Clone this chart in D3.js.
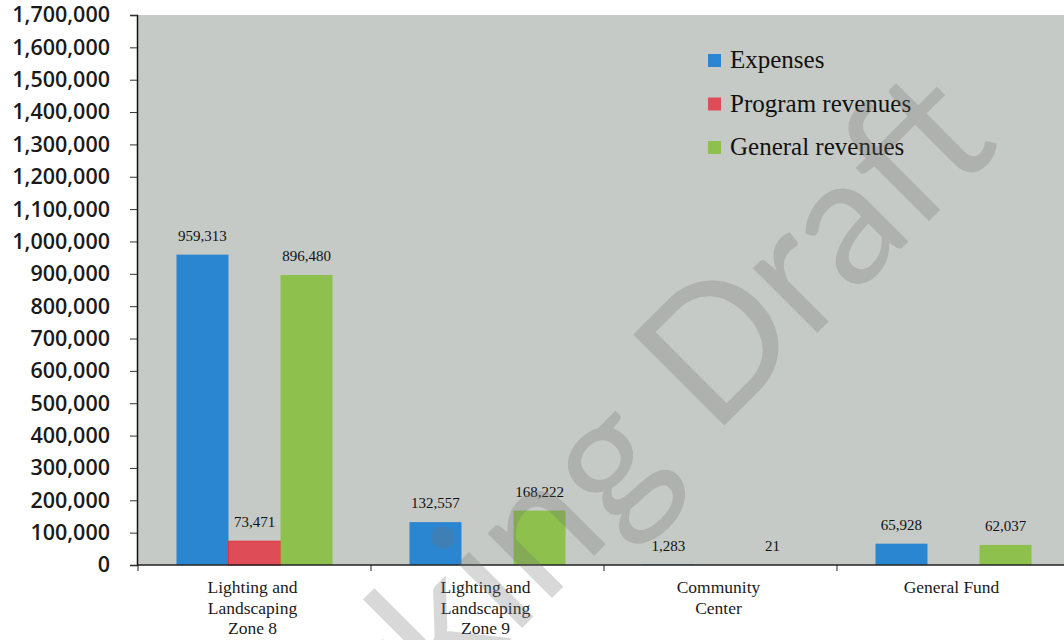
<!DOCTYPE html>
<html>
<head>
<meta charset="utf-8">
<script src="https://cdn.jsdelivr.net/npm/d3@7"></script>
<style>
    body { margin: 0; background: #fff; }
    svg { display: block; }
    .serif { font-family: 'Liberation Serif', 'Times New Roman', Times, 'DejaVu Serif', serif; }
</style>
</head>
<body>
<svg width="1064" height="640"></svg>
<script>
const categories = ['Zone 8', 'Zone 9', 'Community Center', 'General Fund'];
const categoryLines = [
    ['Lighting and', 'Landscaping', 'Zone 8'],
    ['Lighting and', 'Landscaping', 'Zone 9'],
    ['Community', 'Center'],
    ['General Fund']
];
const seriesNames = ['Expenses', 'Program revenues', 'General revenues'];
const expenses = [959313, 132557, 1283, 65928];
const programRevenues = [73471, null, null, null];
const generalRevenues = [896480, 168222, 21, 62037];
const yTicks = d3.range(0, 1700001, 100000);

const COLORS = {
    'Expenses': '#2b86d1',
    'Program revenues': '#de4d57',
    'General revenues': '#8dc04c'
};

const svg = d3.select('svg');
const plotLeft = 137, plotRight = 1070, plotTop = 15, plotBottom = 565;

const y = d3.scaleLinear().domain([0, 1700000]).range([plotBottom, plotTop]);
const x0 = d3.scaleBand().domain(categories).range([plotLeft + 1, plotRight]);
const x1 = d3.scaleBand().domain(seriesNames).range([0, x0.bandwidth()]).paddingOuter(0.74);

// plot background
svg.append('rect')
    .attr('x', plotLeft).attr('y', plotTop)
    .attr('width', 1064 - plotLeft).attr('height', plotBottom - plotTop)
    .attr('fill', '#c6cac6');

const rows = categories.map((c, i) => ({
    cat: c,
    values: [
        { name: 'Expenses', v: expenses[i] },
        { name: 'Program revenues', v: programRevenues[i] },
        { name: 'General revenues', v: generalRevenues[i] }
    ].filter(d => d.v != null)
}));

const groups = svg.selectAll('g.cat')
    .data(rows)
    .enter()
    .append('g')
    .attr('class', 'cat')
    .attr('transform', d => `translate(${x0(d.cat)},0)`);

groups.selectAll('rect')
    .data(d => d.values)
    .enter()
    .append('rect')
    .attr('x', d => x1(d.name))
    .attr('y', d => y(d.v))
    .attr('width', x1.bandwidth())
    .attr('height', d => plotBottom - y(d.v))
    .attr('fill', d => COLORS[d.name])
    .attr('stroke', d => d.name === 'Program revenues' ? '#e8303c' : 'none')
    .attr('stroke-width', 1);

groups.selectAll('text.val')
    .data(d => d.values)
    .enter()
    .append('text')
    .attr('class', 'val serif')
    .attr('x', d => x1(d.name) + x1.bandwidth() / 2)
    .attr('y', d => y(d.v) - 14)
    .attr('text-anchor', 'middle')
    .style('font-size', '15px')
    .attr('fill', '#111')
    .text(d => d3.format(',')(d.v));

// y axis
const yAxis = svg.append('g')
    .attr('transform', `translate(${plotLeft},0)`)
    .call(d3.axisLeft(y).tickValues(yTicks).tickFormat(d3.format(',')).tickSize(7).tickPadding(20));
yAxis.select('.domain').attr('stroke', '#111').attr('stroke-width', 1.5);
yAxis.selectAll('.tick line').attr('stroke', '#333');
yAxis.selectAll('.tick text')
    .style('font-family', '"Open Sans", sans-serif')
    .style('font-size', '21.5px')
    .style('font-weight', 600)
    .attr('fill', '#1a1a1a');

// x axis
svg.append('line')
    .attr('x1', plotLeft).attr('x2', 1064)
    .attr('y1', plotBottom).attr('y2', plotBottom)
    .attr('stroke', '#222').attr('stroke-width', 1.5);
svg.selectAll('line.xtick')
    .data(categories)
    .enter()
    .append('line')
    .attr('class', 'xtick')
    .attr('x1', d => x0(d)).attr('x2', d => x0(d))
    .attr('y1', plotBottom).attr('y2', plotBottom + 6)
    .attr('stroke', '#222');

const catLabels = svg.selectAll('text.catlabel')
    .data(categories)
    .enter()
    .append('text')
    .attr('class', 'catlabel serif')
    .attr('text-anchor', 'middle')
    .attr('transform', d => `translate(${x0(d) + x0.bandwidth() / 2 - 2},593)`)
    .style('font-size', '17.5px')
    .attr('fill', '#1a1a1a');
catLabels.selectAll('tspan')
    .data((d, i) => categoryLines[i])
    .enter()
    .append('tspan')
    .attr('x', 0)
    .attr('dy', (d, i) => i === 0 ? 0 : 20.5)
    .text(d => d);

// legend
const legend = svg.selectAll('g.legend')
    .data(seriesNames)
    .enter()
    .append('g')
    .attr('class', 'legend')
    .attr('transform', (d, i) => `translate(708,${60 + i * 43.5})`);
legend.append('rect')
    .attr('x', 0).attr('y', -6)
    .attr('width', 13).attr('height', 13)
    .attr('fill', d => COLORS[d]);
legend.append('text')
    .attr('class', 'serif')
    .attr('x', 22).attr('y', 8)
    .style('font-size', '25px')
    .attr('fill', '#111')
    .text(d => d);

// watermark
svg.append('text')
    .attr('transform', 'translate(1003,147) rotate(-45)')
    .attr('text-anchor', 'end')
    .style('font-family', 'Lato, sans-serif')
    .style('font-size', '180px')
    .style('font-weight', 400)
    .attr('fill', '#6f746f')
    .attr('fill-opacity', 0.28)
    .text('Working Draft');
</script>
</body>
</html>
